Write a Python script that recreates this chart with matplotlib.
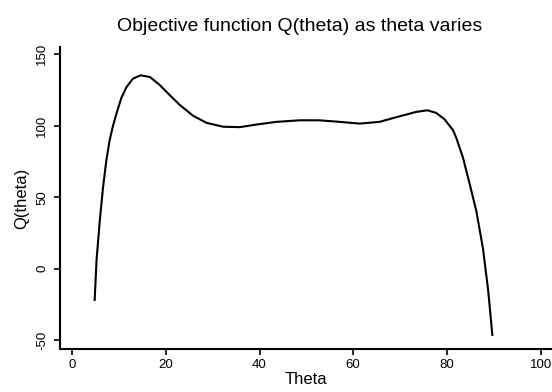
import numpy as np
import matplotlib.pyplot as plt

# values
theta = [4.8, 5.2, 5.9, 6.6, 7.3, 8.0, 8.7, 9.5, 10.5, 11.6, 13.0, 14.6,
         16.6, 18.7, 20.8, 23.0, 25.8, 28.7, 32.2, 35.8, 39.3, 43.6, 48.6,
         52.8, 57.1, 61.4, 65.6, 69.9, 73.5, 75.8, 77.7, 79.5, 81.3, 82.0,
         83.4, 84.8, 86.3, 87.7, 88.8, 89.7]
q_theta = [-22.0, 5.9, 33.9, 57.2, 75.9, 89.9, 99.8, 109.0, 119.5, 127.1,
           133.0, 135.3, 134.1, 128.5, 121.5, 114.5, 107.0, 102.0, 99.3,
           99.0, 100.8, 102.7, 103.8, 103.8, 102.7, 101.5, 102.7, 106.6,
           109.7, 110.8, 109.0, 104.5, 96.9, 91.5, 78.0, 60.0, 40.0, 14.0,
           -15.0, -46.5]

x_ticks = [0, 20, 40, 60, 80, 100]
y_ticks = [-50, 0, 50, 100, 150]


def main():
    plt.rcParams['font.family'] = ['Liberation Sans', 'DejaVu Sans']
    fig = plt.figure(figsize=(5.52, 3.92), dpi=100)
    ax = fig.add_axes([0.1087, 0.1097, 0.891, 0.770])

    ax.plot(theta, q_theta, color='black', linewidth=1.5)

    ax.set_xlim(-2.6, 102.4)
    ax.set_ylim(-56.3, 155.0)
    ax.set_xticks(x_ticks)
    ax.set_yticks(y_ticks)
    ax.set_yticklabels([str(v) for v in y_ticks], rotation=90, va='center')

    for side in ['top', 'right']:
        ax.spines[side].set_visible(False)
    for side in ['left', 'bottom']:
        ax.spines[side].set_linewidth(1.5)
    ax.tick_params(direction='out', length=4.5, width=1.2, labelsize=9.5)
    ax.tick_params(axis='x', pad=2.5)
    ax.tick_params(axis='y', pad=4)

    ax.set_xlabel("Theta", fontsize=12, labelpad=1)
    ax.set_ylabel("Q(theta)", fontsize=12, labelpad=5)
    fig.text(0.543, 0.932, "Objective function Q(theta) as theta varies",
             ha='center', va='center', fontsize=14)

    fig.savefig("out.png", dpi=100)


if __name__ == "__main__":
    main()
